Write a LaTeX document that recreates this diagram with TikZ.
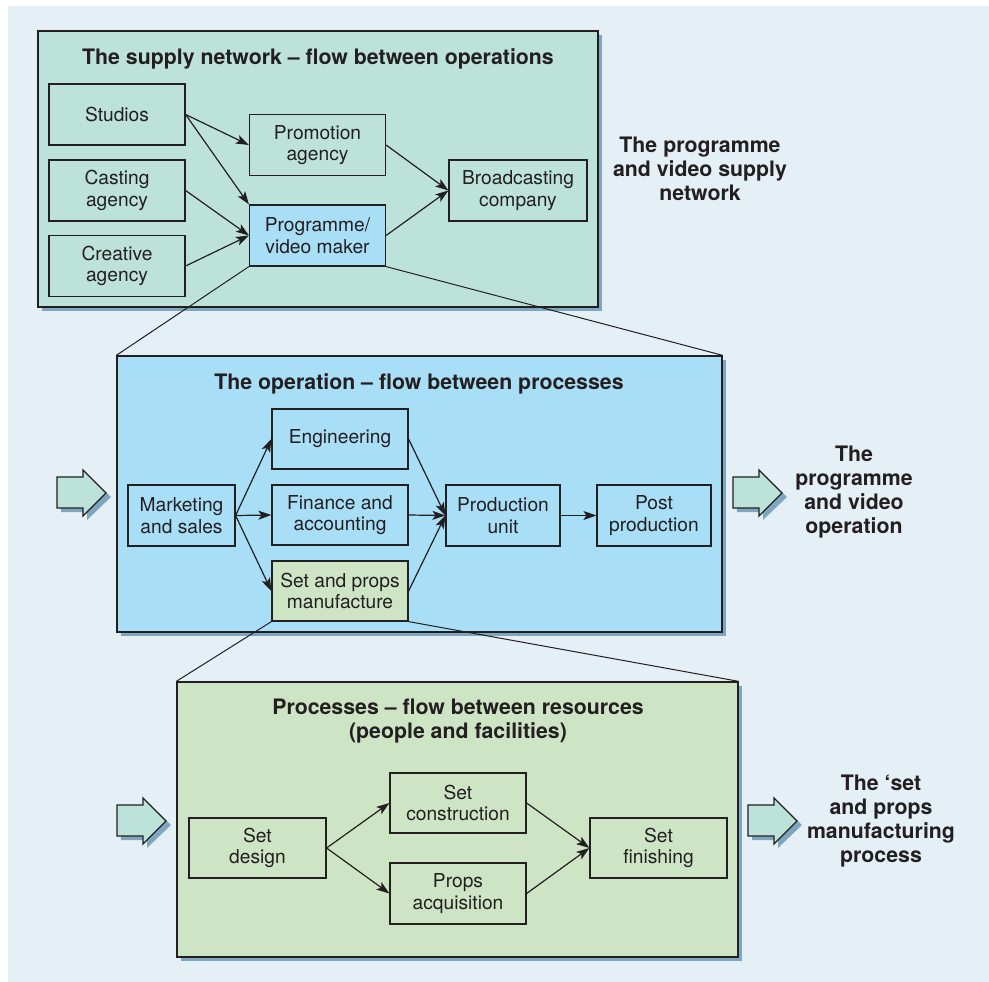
\documentclass[tikz,border=0pt]{standalone}
\usepackage{fontspec}
\setmainfont{TeX Gyre Heros}
\usetikzlibrary{arrows.meta,shadows}
\definecolor{bgc}{HTML}{E4EFF6}
\definecolor{topfill}{HTML}{BDE2DA}
\definecolor{midfill}{HTML}{A9DEF7}
\definecolor{botfill}{HTML}{CEE5C5}
\definecolor{shadowc}{HTML}{7EA6BE}
\definecolor{inkc}{HTML}{231F20}
\begin{document}
\begin{tikzpicture}[x=1pt,y=-1pt,
  every node/.style={text=inkc},
  bigbox/.style={draw=inkc, line width=1.3pt, inner sep=0pt,
    drop shadow={shadow xshift=4pt, shadow yshift=-4pt, fill=shadowc, opacity=1}},
  procbox/.style={draw=inkc, line width=1.2pt, minimum width=136pt, minimum height=61pt,
    align=center, inner sep=0pt, font=\fontsize{19.2}{21.8}\selectfont},
  ttl/.style={font=\bfseries\fontsize{21.3}{24}\selectfont, align=center, inner sep=0pt},
  flow/.style={draw=inkc, line width=1.2pt, -{Stealth[length=13pt,width=9pt,inset=3pt]}},
  zoomline/.style={draw=inkc, line width=1pt},
  blockarrow/.pic={
    \fill[shadowc] (4,11) -- (30,11) -- (30,4) -- (54,27) -- (30,50) -- (30,42) -- (4,42) -- cycle;
    \filldraw[fill=topfill, draw=inkc, line width=1.1pt]
      (0,7) -- (26,7) -- (26,0) -- (49,23) -- (26,46) -- (26,38) -- (0,38) -- cycle;
  }]
\useasboundingbox (0,0) rectangle (989,982);
\fill[white] (0,0) rectangle (989,982);
\fill[bgc] (8,6) rectangle (989,982);

% ---------- supply network ----------
\node[bigbox, fill=topfill, minimum width=560pt, minimum height=276pt] (net) at (318,169) {};
\node[ttl] (nettitle) at (318,59) {The supply network – flow between operations};
\node[procbox] (studios) at (117,114.5) {Studios};
\node[procbox] (casting) at (117,190.5) {Casting\\agency};
\node[procbox] (creative) at (117,266) {Creative\\agency};
\node[procbox] (promo) at (317.5,145) {Promotion\\agency};
\node[procbox, fill=midfill] (maker) at (317.5,235.5) {Programme/\\video maker};
\node[procbox, minimum width=138pt] (broad) at (518,190.5) {Broadcasting\\company};
\node[ttl] (netlabel) at (700,169) {The programme\\and video supply\\network};

\draw[flow] (studios.east) -- (promo.west);
\draw[flow] (studios.east) -- (maker.north west);
\draw[flow] (casting.east) -- (maker.west);
\draw[flow] (creative.east) -- (maker.west);
\draw[flow] (promo.east) -- (broad.west);
\draw[flow] (maker.east) -- (broad.west);

% ---------- operation ----------
\node[bigbox, fill=midfill, minimum width=605pt, minimum height=276pt] (op) at (419.5,494) {};
\draw[zoomline] (maker.south west) -- (op.north west);
\draw[zoomline] (maker.south east) -- (op.north east);
\node[ttl] (optitle) at (419,384) {The operation – flow between processes};
\node[procbox, minimum width=107pt] (mkt) at (181.5,515.5) {Marketing\\and sales};
\node[procbox, minimum height=60pt] (eng) at (340,439) {Engineering};
\node[procbox, minimum height=60pt] (fin) at (340,515) {Finance and\\accounting};
\node[procbox, minimum height=60pt, fill=botfill] (setprops) at (340,591) {Set and props\\manufacture};
\node[procbox, minimum width=114pt] (prod) at (503,515.5) {Production\\unit};
\node[procbox, minimum width=114pt] (post) at (654,515.5) {Post\\production};
\node[ttl] (oplabel) at (854,492) {The\\programme\\and video\\operation};
\pic at (57,470) {blockarrow};
\pic at (733,470) {blockarrow};

\draw[flow] (mkt.east) -- (eng.west);
\draw[flow] (mkt.east) -- (fin.west);
\draw[flow] (mkt.east) -- (setprops.west);
\draw[flow] (eng.east) -- (prod.west);
\draw[flow] (fin.east) -- (prod.west);
\draw[flow] (setprops.east) -- (prod.west);
\draw[flow] (prod.east) -- (post.west);

% ---------- processes ----------
\node[bigbox, fill=botfill, minimum width=561pt, minimum height=275pt] (pr) at (457.5,819.5) {};
\draw[zoomline] (setprops.south west) -- (pr.north west);
\draw[zoomline] (setprops.south east) -- (pr.north east);
\node[ttl] (prtitle) at (458,721) {Processes – flow between resources\\(people and facilities)};
\node[procbox, minimum height=60pt, minimum width=137pt] (design) at (257.5,848) {Set\\design};
\node[procbox, minimum height=60pt] (cons) at (458,803) {Set\\construction};
\node[procbox] (props) at (458,893.5) {Props\\acquisition};
\node[procbox, minimum height=60pt, minimum width=137pt] (finish) at (658.5,848) {Set\\finishing};
\node[ttl] (prlabel) at (881,821) {The ‘set\\and props\\manufacturing\\process};
\pic at (117,798) {blockarrow};
\pic at (748,798) {blockarrow};

\draw[flow] (design.east) -- (cons.west);
\draw[flow] (design.east) -- (props.west);
\draw[flow] (cons.east) -- (finish.west);
\draw[flow] (props.east) -- (finish.west);
\end{tikzpicture}
\end{document}
